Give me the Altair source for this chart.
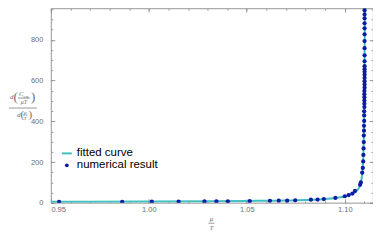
import altair as alt
import pandas as pd

# ---- data ----
num_x = [0.9542, 0.9864, 1.0015, 1.0152, 1.0284, 1.0345, 1.0403, 1.0515, 1.0618, 1.0663,
         1.0706, 1.0747, 1.0827, 1.0861, 1.0893, 1.0952, 1.1000, 1.1020, 1.1039, 1.1052,
         1.1078, 1.1082, 1.1089, 1.1092, 1.1094, 1.1095, 1.1096, 1.1097, 1.1097, 1.1098,
         1.1098, 1.1099, 1.1099, 1.1099, 1.1100, 1.1100, 1.1100, 1.1100, 1.1100, 1.1100,
         1.1101, 1.1101, 1.1101, 1.1101, 1.1101, 1.1101, 1.1101, 1.1101, 1.1101, 1.1101,
         1.1101, 1.1101, 1.1101, 1.1101, 1.1101, 1.1101, 1.1101, 1.1101]
num_y = [4, 5, 5.5, 6, 6.5, 7, 7.5, 8.5, 9.5, 10,
         10.5, 12, 15, 16, 18, 24, 32, 38, 45, 58,
         88, 100, 148, 171, 203, 235, 267, 298, 330, 354,
         378, 402, 429, 449, 470, 486, 502, 518, 533, 549,
         565, 581, 597, 613, 629, 643, 656, 671, 695, 724,
         759, 794, 827, 857, 881, 906, 925, 946]

fit_x = [0.95, 0.97, 1.00, 1.03, 1.05, 1.07, 1.08, 1.09, 1.095, 1.10, 1.103, 1.105,
         1.106, 1.107, 1.1078, 1.1083, 1.1088, 1.1092, 1.1095, 1.1097, 1.1099, 1.1100,
         1.1101, 1.1102, 1.1103]
fit_y = [5, 5.5, 6.5, 7.5, 9, 11, 13.5, 18, 23, 32, 41, 50,
         58, 70, 86, 104, 135, 180, 240, 320, 450, 560,
         700, 850, 970]

x_major = [0.95, 1.00, 1.05, 1.10]
x_minor = [0.95, 0.96, 0.97, 0.98, 0.99, 1.00, 1.01, 1.02, 1.03, 1.04, 1.05,
           1.06, 1.07, 1.08, 1.09, 1.10, 1.11]
y_major = [0, 200, 400, 600, 800]
y_minor = [0, 50, 100, 150, 200, 250, 300, 350, 400, 450, 500, 550, 600,
           650, 700, 750, 800, 850, 900, 950]

legend_labels = ["fitted curve", "numerical result"]

X_DOMAIN = [0.95, 1.1144]
Y_DOMAIN = [0, 955]

GRAY = "#8a8a8a"
TEXT_GRAY = "#6e6e6e"
TEAL = "#3fc1bf"
BLUE = "#0d1aa3"

num_df = pd.DataFrame({"x": num_x, "y": num_y})
fit_df = pd.DataFrame({"x": fit_x, "y": fit_y})


def X(axis):
    return alt.X("x:Q", scale=alt.Scale(domain=X_DOMAIN, nice=False, zero=False), axis=axis, title=None)


def Y(axis):
    return alt.Y("y:Q", scale=alt.Scale(domain=Y_DOMAIN, nice=False, zero=False), axis=axis, title=None)


lab_common = dict(grid=False, ticks=False, domain=False, labelColor=TEXT_GRAY,
                  labelFontSize=7.5, labelFont="Liberation Sans", title=None)


def tick_axis(orient, values, size):
    return alt.Axis(orient=orient, values=values, tickSize=size, offset=-size, labels=False,
                    domain=False, grid=False, tickColor=GRAY, tickWidth=0.8, title=None)


curve = alt.Chart(fit_df).mark_line(color=TEAL, strokeWidth=2, clip=True, interpolate="monotone").encode(
    x=X(alt.Axis(orient="bottom", values=x_major, format=".2f", labelPadding=3, **lab_common)),
    y=Y(alt.Axis(orient="left", values=y_major, labelPadding=8, **lab_common)),
)

points = alt.Chart(num_df).mark_point(filled=True, color=BLUE, size=18, opacity=1, clip=True).encode(
    x=X(tick_axis("bottom", x_major, 4)),
    y=Y(tick_axis("left", y_major, 4)),
)

ghost1 = alt.Chart(num_df).mark_point(opacity=0).encode(
    x=X(tick_axis("bottom", x_minor, 2)),
    y=Y(tick_axis("left", y_minor, 2)),
)
ghost2 = alt.Chart(num_df).mark_point(opacity=0).encode(
    x=X(tick_axis("top", x_major, 4)),
    y=Y(tick_axis("right", y_major, 4)),
)
ghost3 = alt.Chart(num_df).mark_point(opacity=0).encode(
    x=X(tick_axis("top", x_minor, 2)),
    y=Y(tick_axis("right", y_minor, 2)),
)


def one():
    return alt.Data(values=[{"k": 1}])


def txt(s, cx, cy, size, align="left", italic=True, font="Liberation Serif", color=TEXT_GRAY):
    return alt.Chart(one()).mark_text(
        text=s, align=align, baseline="middle", fontSize=size,
        fontStyle="italic" if italic else "normal", font=font, color=color
    ).encode(x=alt.value(cx), y=alt.value(cy))


def bar(a, b, cy, color=TEXT_GRAY, w=0.7):
    return alt.Chart(one()).mark_rule(color=color, strokeWidth=w).encode(
        x=alt.value(a), x2=alt.value(b), y=alt.value(cy))


annotations = [
    # y-axis title: d(C_eq / (mu T)) / d(mu / T)
    txt("d", -41, 89, 7),
    txt("(", -37.5, 89, 13, italic=False),
    txt("C", -32, 86, 7),
    txt("eq", -27.5, 88, 5, italic=False),
    bar(-33, -21, 90),
    txt("μT", -27, 93.5, 6, align="center"),
    txt(")", -20, 89, 13, italic=False),
    bar(-42, -14, 100),
    txt("d", -34, 107, 7),
    txt("(", -30.5, 107, 11, italic=False),
    txt("μ", -25.8, 103.8, 5, align="center"),
    bar(-28, -23.5, 107),
    txt("T", -25.8, 110.5, 5, align="center"),
    txt(")", -22.5, 107, 11, italic=False),
    # x-axis title: mu / T
    txt("μ", 161, 211, 7, align="center"),
    bar(158, 164, 215.5),
    txt("T", 161, 220, 7, align="center"),
    # legend
    bar(11, 21, 145.5, color=TEAL, w=2),
    txt(legend_labels[0], 26, 145.5, 11.5, italic=False, font="Liberation Sans", color="#000000"),
    alt.Chart(one()).mark_point(filled=True, color=BLUE, size=14, opacity=1).encode(
        x=alt.value(16), y=alt.value(157.5)),
    txt(legend_labels[1], 26, 157.5, 11.5, italic=False, font="Liberation Sans", color="#000000"),
]

chart = alt.layer(curve, points, ghost1, ghost2, ghost3, *annotations).resolve_axis(
    x="independent", y="independent"
).properties(
    width=323, height=195,
    autosize=alt.AutoSizeParams(type="none"),
    padding={"left": 43, "top": 0, "right": 0, "bottom": 28},
    background="white",
).configure_view(stroke=GRAY, strokeWidth=0.9)

chart.save("out.html", embed_options={"renderer": "svg", "actions": False})
